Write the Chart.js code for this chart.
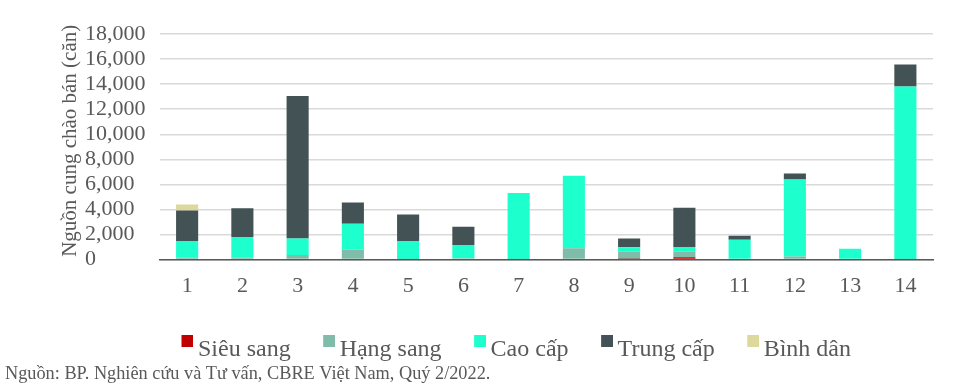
<!DOCTYPE html>
<html>
<head>
<meta charset="utf-8">
<script src="https://cdn.jsdelivr.net/npm/chart.js@4/dist/chart.umd.min.js"></script>
<style>
  html, body { margin: 0; padding: 0; background: #fff; }
  #wrap { position: relative; width: 955px; height: 392px; }
</style>
</head>
<body>
<div id="wrap"><canvas id="supplyChart"></canvas></div>
<script>
// data
const projects = [ '1', '2', '3', '4', '5', '6', '7', '8', '9', '10', '11', '12', '13', '14' ];
const sieuSang = [ 0, 0, 0, 0, 0, 0, 0, 0, 30, 180, 0, 0, 0, 0 ];
const hangSang = [ 150, 150, 370, 790, 50, 100, 50, 900, 600, 450, 0, 240, 0, 50 ];
const caoCap   = [ 1330, 1650, 1320, 2070, 1430, 1060, 5270, 5790, 350, 370, 1590, 6160, 870, 13760 ];
const trungCap = [ 2430, 2300, 11370, 1690, 2120, 1460, 0, 0, 710, 3130, 310, 470, 0, 1750 ];
const binhDan  = [ 480, 0, 0, 0, 0, 0, 0, 0, 0, 0, 0, 0, 0, 0 ];
const yTicksMax = 18000;
const yStep = 2000;

const yTitle = 'Nguồn cung chào bán (căn)';
const sourceNote = 'Nguồn: BP. Nghiên cứu và Tư vấn, CBRE Việt Nam, Quý 2/2022.';

const fontFam = '"Liberation Serif", "DejaVu Serif", serif';
const txtColor = '#595959';
const colors = [ '#c00000', '#80bcaa', '#1effce', '#435254', '#ddd89c' ];

// legend marker: square sitting high, next to the text top
function legendMarker(color) {
  const c = document.createElement('canvas');
  c.width = 20;
  c.height = 30;
  const g = c.getContext('2d');
  g.fillStyle = color;
  g.fillRect(8, 0, 12, 12);
  return c;
}

// stacked bar setup
const dataSupply = {
  labels: projects,
  datasets: [
    { label: 'Siêu sang', data: sieuSang, backgroundColor: colors[ 0 ], pointStyle: legendMarker(colors[ 0 ]) },
    { label: 'Hạng sang', data: hangSang, backgroundColor: colors[ 1 ], pointStyle: legendMarker(colors[ 1 ]) },
    { label: 'Cao cấp', data: caoCap, backgroundColor: colors[ 2 ], pointStyle: legendMarker(colors[ 2 ]) },
    { label: 'Trung cấp', data: trungCap, backgroundColor: colors[ 3 ], pointStyle: legendMarker(colors[ 3 ]) },
    { label: 'Bình dân', data: binhDan, backgroundColor: colors[ 4 ], pointStyle: legendMarker(colors[ 4 ]) },
  ]
};

// axis title + source line, drawn outside the plot area
const extraText = {
  id: 'extraText',
  afterLayout(chart) {
    // nudge the legend a little to the right, like the original
    chart.legend.left += 7;
    chart.legend.right += 7;
  },
  afterDraw(chart) {
    const ctx = chart.ctx;
    const area = chart.chartArea;
    ctx.save();
    ctx.fillStyle = txtColor;
    ctx.textBaseline = 'middle';
    // y axis title
    ctx.font = '21px ' + fontFam;
    ctx.translate(70, (area.top + area.bottom) / 2 - 6);
    ctx.rotate(-Math.PI / 2);
    ctx.textAlign = 'center';
    ctx.fillText(yTitle, 0, 0);
    ctx.restore();
    // source note
    ctx.save();
    ctx.fillStyle = txtColor;
    ctx.textBaseline = 'middle';
    ctx.textAlign = 'left';
    ctx.font = '18.3px ' + fontFam;
    ctx.fillText(sourceNote, 5, 374);
    ctx.restore();
  }
};

const config = {
  type: 'bar',
  data: dataSupply,
  options: {
    responsive: true,
    maintainAspectRatio: false,
    animation: false,
    datasets: {
      bar: { categoryPercentage: 1, barPercentage: 0.4 }
    },
    layout: { padding: { left: 85, right: 22, top: 34, bottom: 20 } },
    scales: {
      x: {
        stacked: true,
        grid: { display: false },
        border: { color: '#595959', width: 1.5 },
        ticks: { color: txtColor, font: { family: fontFam, size: 22 }, padding: 5 },
        afterFit: (scale) => { scale.height += 2; },
      },
      y: {
        stacked: true,
        min: 0,
        max: yTicksMax,
        grid: { color: '#d9d9d9', lineWidth: 1.5, drawTicks: false },
        border: { display: false },
        ticks: {
          stepSize: yStep,
          autoSkip: false,
          color: txtColor,
          crossAlign: 'far',
          padding: 7,
          font: { family: fontFam, size: 22 },
          callback: (v) => v.toLocaleString('en-US'),
        },
      }
    },
    plugins: {
      legend: {
        position: 'bottom',
        labels: {
          color: txtColor,
          usePointStyle: true,
          boxWidth: 5,
          boxHeight: 12,
          padding: 32,
          font: { family: fontFam, size: 24 },
        },
      },
      tooltip: { enabled: false },
    }
  },
  plugins: [ extraText ]
};

const supplyChart = new Chart(document.getElementById('supplyChart'), config);
</script>
</body>
</html>
